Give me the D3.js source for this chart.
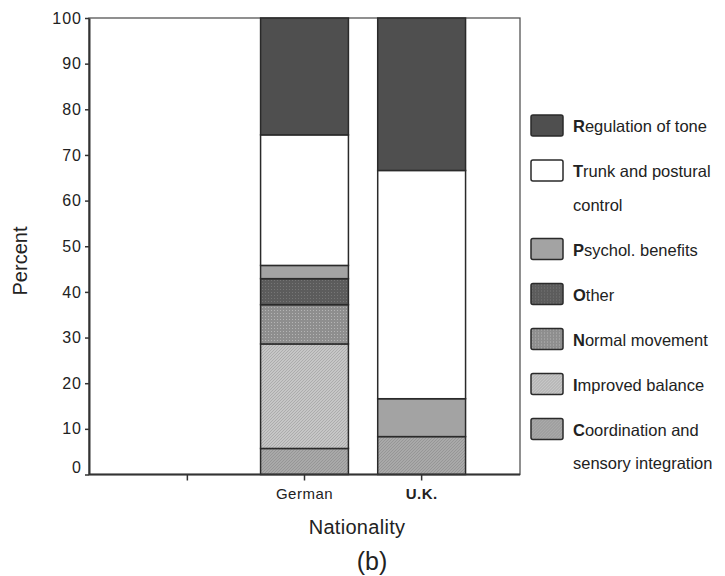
<!DOCTYPE html>
<html>
<head>
<meta charset="utf-8">
<script src="https://cdn.jsdelivr.net/npm/d3@7"></script>
<style>
  body { margin: 0; background: #fff; }
  text { font-family: "Liberation Sans", Arial, sans-serif; fill: #222; }
</style>
</head>
<body>
<div class="container_graph"></div>
<script>
const nationalities = ["", "German", "U.K."];
const reasons = [
  "Coordination and sensory integration",
  "Improved balance",
  "Normal movement",
  "Other",
  "Psychol. benefits",
  "Trunk and postural control",
  "Regulation of tone"
];
const blankValues = [0, 0, 0, 0, 0, 0, 0];
const germanValues = [5.7, 22.9, 8.6, 5.7, 2.9, 28.6, 25.6];
const ukValues = [8.3, 0, 0, 0, 8.3, 50.0, 33.4];
const yTicks = [0, 10, 20, 30, 40, 50, 60, 70, 80, 90, 100];
const legendLines = {
  "Trunk and postural control": ["Trunk and postural", "control"],
  "Coordination and sensory integration": ["Coordination and", "sensory integration"]
};

const width = 725;
const height = 576;
const plot = { left: 89, right: 520, top: 18, bottom: 474.5 };

const svg = d3
  .select(".container_graph")
  .append("svg")
  .attr("width", width)
  .attr("height", height);

// fill patterns, roughly like the printed greys
const defs = svg.append("defs");
function addPattern(id, base, dot, kind) {
  const p = defs
    .append("pattern")
    .attr("id", id)
    .attr("patternUnits", "userSpaceOnUse")
    .attr("width", 3)
    .attr("height", 3);
  p.append("rect").attr("width", 3).attr("height", 3).attr("fill", base);
  if (kind === "dots") {
    p.append("rect").attr("x", 1).attr("y", 1).attr("width", 1).attr("height", 1).attr("fill", dot);
  } else {
    p.append("path").attr("d", "M0,3 L3,0").attr("stroke", dot).attr("stroke-width", 0.8);
  }
}
addPattern("p-coord", "#a9a9a9", "#929292", "diag");
addPattern("p-balance", "#c6c6c6", "#a6a6a6", "diag");
addPattern("p-normal", "#8e8e8e", "#b4b4b4", "dots");
addPattern("p-other", "#5c5c5c", "#767676", "dots");

const fills = {
  "Coordination and sensory integration": "url(#p-coord)",
  "Improved balance": "url(#p-balance)",
  "Normal movement": "url(#p-normal)",
  "Other": "url(#p-other)",
  "Psychol. benefits": "#a3a3a3",
  "Trunk and postural control": "#ffffff",
  "Regulation of tone": "#4f4f4f"
};

const rows = nationalities.map((n, i) => {
  const vals = [blankValues, germanValues, ukValues][i];
  const row = { nat: n };
  reasons.forEach((r, j) => (row[r] = vals[j]));
  return row;
});

const series = d3.stack().keys(reasons)(rows);

const xScale = d3
  .scaleBand()
  .domain(nationalities)
  .range([128.8, 480.2])
  .paddingInner(0.25)
  .paddingOuter(0.125);

const yScale = d3
  .scaleLinear()
  .domain([0, 100])
  .range([plot.bottom, plot.top]);

// frame
svg
  .append("rect")
  .attr("x", plot.left)
  .attr("y", plot.top)
  .attr("width", plot.right - plot.left)
  .attr("height", plot.bottom - plot.top)
  .attr("fill", "none")
  .attr("stroke", "#555")
  .attr("stroke-width", 1.3);

// bars
svg
  .append("g")
  .selectAll("g")
  .data(series)
  .join("g")
  .attr("fill", (s) => fills[s.key])
  .selectAll("rect")
  .data((s) => s.filter((d) => d[1] - d[0] > 0))
  .join("rect")
  .attr("x", (d) => xScale(d.data.nat))
  .attr("y", (d) => yScale(d[1]))
  .attr("width", xScale.bandwidth())
  .attr("height", (d) => yScale(d[0]) - yScale(d[1]))
  .attr("stroke", "#2a2a2a")
  .attr("stroke-width", 1.5);

// y axis
const gy = svg
  .append("g")
  .attr("transform", `translate(${plot.left},0)`)
  .call(d3.axisLeft(yScale).tickValues(yTicks).tickSize(4).tickSizeOuter(0).tickPadding(3));
gy.select(".domain").attr("stroke", "#333").attr("stroke-width", 2);
gy.selectAll(".tick line").attr("stroke", "#333").attr("stroke-width", 1.5);
gy.selectAll(".tick text")
  .attr("font-size", "16px")
  .attr("letter-spacing", "1px")
  .attr("fill", "#222")
  .attr("dy", (d) => (d === 0 ? "-0.15em" : "0.32em"));

// x axis
const gx = svg
  .append("g")
  .attr("transform", `translate(0,${plot.bottom})`)
  .call(d3.axisBottom(xScale).tickSize(6).tickSizeOuter(0).tickPadding(8));
gx.select(".domain").remove();
gx.append("line")
  .attr("x1", plot.left)
  .attr("x2", plot.right)
  .attr("stroke", "#333")
  .attr("stroke-width", 2);
gx.selectAll(".tick line").attr("stroke", "#333").attr("stroke-width", 1.5);
gx.selectAll(".tick text")
  .attr("font-size", "15px")
  .attr("letter-spacing", "0.5px")
  .attr("font-weight", (d) => (d === "U.K." ? "bold" : "normal"))
  .attr("fill", "#222");

// axis titles
svg
  .append("text")
  .attr("transform", "translate(27,261) rotate(-90)")
  .attr("text-anchor", "middle")
  .attr("font-size", "20px")
  .text("Percent");

svg
  .append("text")
  .attr("x", 357)
  .attr("y", 534)
  .attr("text-anchor", "middle")
  .attr("font-size", "20px")
  .attr("letter-spacing", "0.3px")
  .text("Nationality");

svg
  .append("text")
  .attr("x", 372)
  .attr("y", 570)
  .attr("text-anchor", "middle")
  .attr("font-size", "25px")
  .text("(b)");

// legend, top to bottom
const legend = svg.append("g").attr("transform", "translate(531,0)");
let yPos = 115;
reasons
  .slice()
  .reverse()
  .forEach((r) => {
    const lines = legendLines[r] || [r];
    const item = legend.append("g").attr("transform", `translate(0,${yPos})`);
    item
      .append("rect")
      .attr("width", 32)
      .attr("height", 21)
      .attr("rx", 2)
      .attr("fill", fills[r])
      .attr("stroke", "#2a2a2a")
      .attr("stroke-width", 1.5);
    lines.forEach((line, i) => {
      const t = item
        .append("text")
        .attr("x", 42)
        .attr("y", 17 + i * 33.5)
        .attr("font-size", "16.5px");
      if (i === 0) {
        t.append("tspan").attr("font-weight", "bold").text(line[0]);
        t.append("tspan").text(line.slice(1));
      } else {
        t.text(line);
      }
    });
    yPos += 45 + (lines.length - 1) * 33.5;
  });
</script>
</body>
</html>
